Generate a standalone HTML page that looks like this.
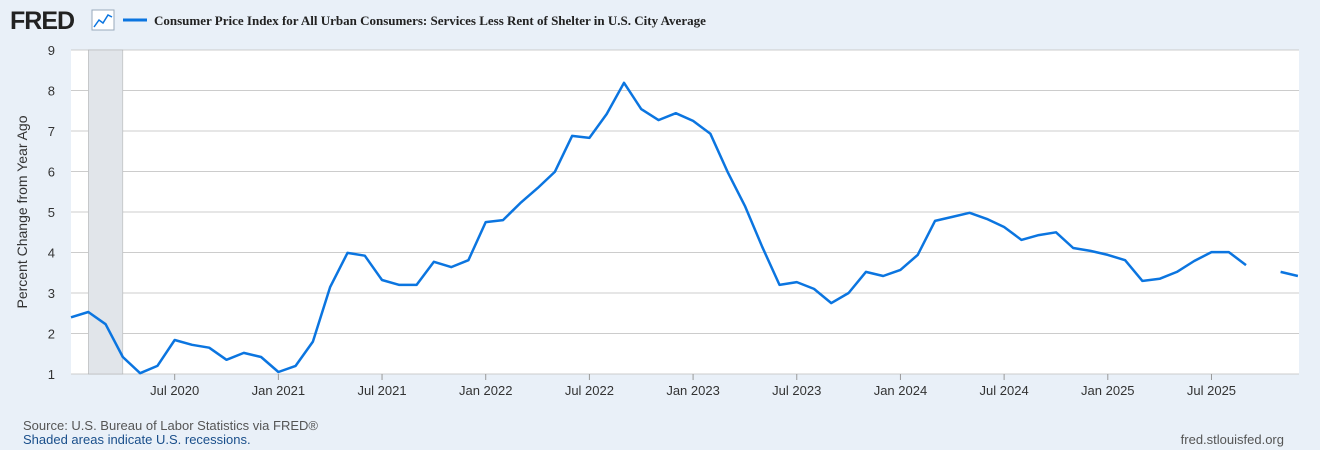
<!DOCTYPE html>
<html><head><meta charset="utf-8"><style>
body{margin:0;width:1320px;height:450px;background:#e9f0f8;font-family:"Liberation Sans",sans-serif;overflow:hidden;position:relative}
</style></head><body>
<svg width="1320" height="450" style="position:absolute;left:0;top:0">
<g>
<text x="10" y="29" font-family="Liberation Sans" font-weight="bold" font-size="25" fill="#222" letter-spacing="-1">FRED</text>
<rect x="92" y="10" width="22" height="20" fill="#fff" stroke="#9ab" stroke-width="1"/>
<polyline points="94,27 99,20 103,23 108,15 112,17" fill="none" stroke="#0b75e0" stroke-width="1.5"/>
</g>
<line x1="123" y1="20" x2="147" y2="20" stroke="#0b75e0" stroke-width="3"/>
<text x="154" y="25" font-family="Liberation Serif" font-weight="bold" font-size="13" fill="#222">Consumer Price Index for All Urban Consumers: Services Less Rent of Shelter in U.S. City Average</text>
<rect x="71" y="50" width="1228" height="324" fill="#fff"/>
<g id="grid"></g><g id="rec"></g><g id="yt"></g><g id="xt"></g><g id="ser"></g>
<text transform="translate(27,212) rotate(-90)" text-anchor="middle" font-size="14" fill="#333">Percent Change from Year Ago</text>
<text x="23" y="430" font-size="13" fill="#555">Source: U.S. Bureau of Labor Statistics via FRED®</text>
<text x="23" y="444" font-size="13" fill="#1a4f8b">Shaded areas indicate U.S. recessions.</text>
<text x="1284" y="444" text-anchor="end" font-size="13" fill="#555">fred.stlouisfed.org</text>
</svg>
<script>
const values=[2.4,2.53,2.23,1.42,1.02,1.2,1.84,1.72,1.65,1.35,1.52,1.42,
1.05,1.2,1.8,3.15,3.99,3.92,3.32,3.2,3.2,3.77,3.64,3.81,
4.75,4.8,5.22,5.59,5.99,6.88,6.83,7.42,8.19,7.54,7.27,7.44,
7.25,6.93,5.99,5.15,4.14,3.2,3.27,3.1,2.75,3.0,3.52,3.42,
3.57,3.94,4.78,4.88,4.98,4.83,4.63,4.31,4.43,4.5,4.11,4.04,
3.94,3.81,3.3,3.35,3.52,3.79,4.01,4.01,3.69,null,3.52,3.42];
const yTicks=[1,2,3,4,5,6,7,8,9];
const xTickLabels=["Jul 2020","Jan 2021","Jul 2021","Jan 2022","Jul 2022","Jan 2023","Jul 2023","Jan 2024","Jul 2024","Jan 2025","Jul 2025"];
const xTickMonths=[6,12,18,24,30,36,42,48,54,60,66];
const recession=[1,3];
const NS="http://www.w3.org/2000/svg";
const x=m=>71+m*17.28;
const y=v=>374-(v-1)*40.5;
function mk(p,t,a){const e=document.createElementNS(NS,t);for(const k in a)e.setAttribute(k,a[k]);document.getElementById(p).appendChild(e);return e;}
yTicks.forEach(v=>{
 const l=mk('grid','line',{x1:71,x2:1299,y1:y(v),y2:y(v),stroke:'#ccc','stroke-width':1});
 
 
 const t=mk('yt','text',{x:55,y:y(v)+5,'text-anchor':'end','font-size':13,fill:'#333'});t.textContent=v;
 
 
});
const r=mk('rec','rect',{x:x(recession[0]),y:50,width:x(recession[1])-x(recession[0]),height:324,fill:'#e1e5ea',stroke:'#aaa','stroke-width':0.5});


xTickMonths.forEach((m,i)=>{
 mk('xt','line',{x1:x(m),x2:x(m),y1:374,y2:380,stroke:'#999'});
 const t=mk('xt','text',{x:x(m),y:395,'text-anchor':'middle','font-size':13,fill:'#333'});t.textContent=xTickLabels[i];
 
 
});
let segs=[],cur=[];
values.forEach((v,i)=>{if(v==null){if(cur.length)segs.push(cur);cur=[];}else cur.push(x(i).toFixed(1)+','+y(v).toFixed(1));});
if(cur.length)segs.push(cur);
segs.forEach(s=>{const p=mk('ser','polyline',{points:s.join(' '),fill:'none',stroke:'#0b75e0','stroke-width':2.5,'stroke-linejoin':'round'});
 
 
});
</script>
</body></html>
